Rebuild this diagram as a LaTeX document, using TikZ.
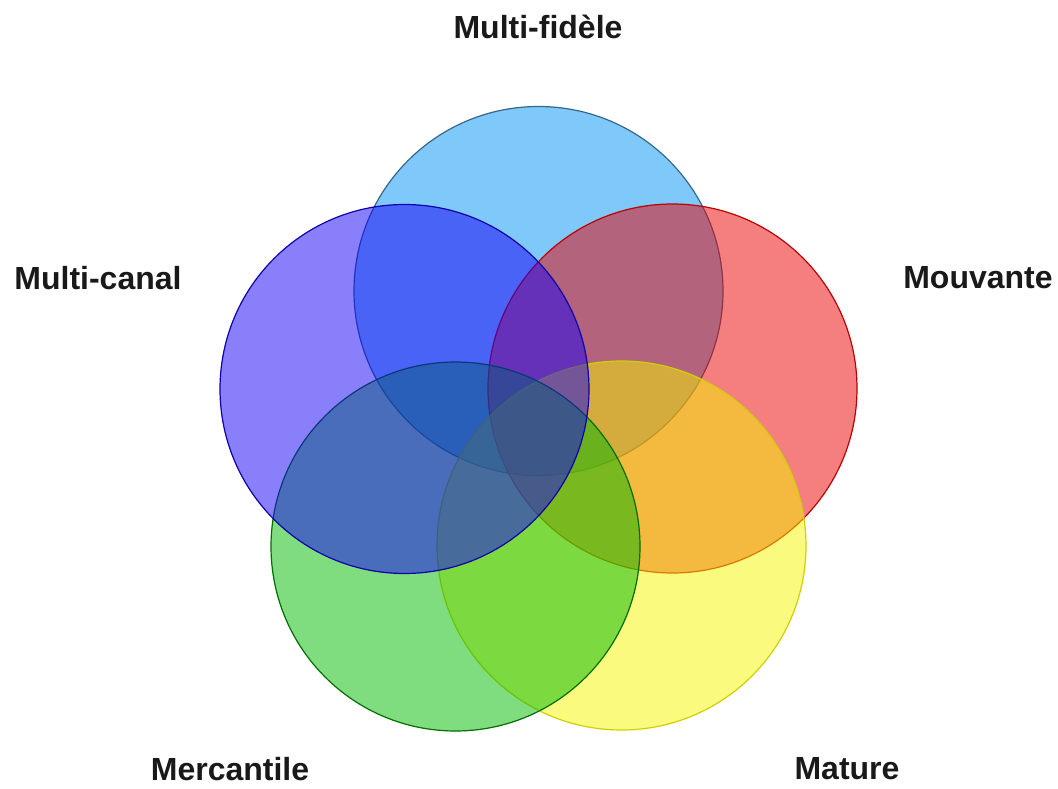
\documentclass[tikz,border=0pt]{standalone}
\usepackage{fontspec}
\setmainfont{Liberation Sans}
\definecolor{cfidele}{RGB}{0,145,245}
\definecolor{cmouv}{RGB}{235,0,0}
\definecolor{cmature}{RGB}{245,245,0}
\definecolor{cmerc}{RGB}{0,185,0}
\definecolor{ccanal}{RGB}{20,0,245}

\begin{document}
\begin{tikzpicture}[x=1pt,y=-1pt,
  cercle/.style = {circle,minimum size=369pt,inner sep=0pt,fill opacity=0.5,line width=1.2pt},
  titre/.style = {font=\fontsize{32}{38}\selectfont\bfseries,text=black!90,inner sep=1pt}]
\useasboundingbox (0,0) rectangle (1058,789);
\node[cercle,fill=cfidele,draw=cfidele!45!black!80] (F) at (538.5,291) {};
\node[cercle,fill=cmouv,draw=cmouv!80!black] (R) at (672.5,388.5) {};
\node[cercle,fill=cmature,draw=cmature!85!black] (J) at (621.5,545.5) {};
\node[cercle,fill=cmerc,draw=cmerc!60!black] (V) at (455.5,546.5) {};
\node[cercle,fill=ccanal,draw=ccanal!70!black] (B) at (404.5,389) {};

\node[titre] (tF) at (538,27) {Multi-fidèle};
\node[titre] (tR) at (978,278) {Mouvante};
\node[titre] (tB) at (98,278) {Multi-canal};
\node[titre] (tV) at (230,769) {Mercantile};
\node[titre] (tJ) at (847,769) {Mature};
\end{tikzpicture}
\end{document}
